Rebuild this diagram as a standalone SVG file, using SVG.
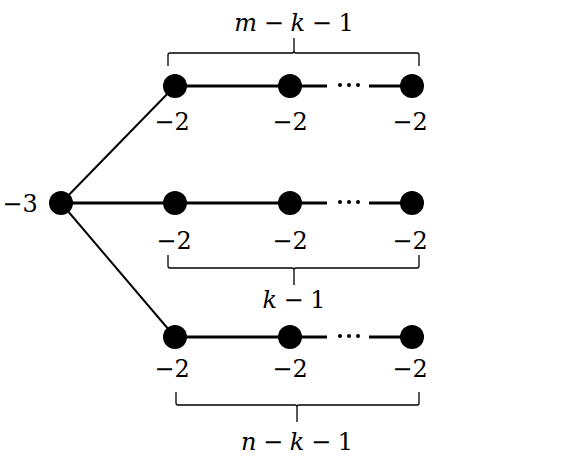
<svg xmlns="http://www.w3.org/2000/svg" width="563" height="462" viewBox="0 0 563 462">
<style>
.n{fill:#000}
.e{stroke:#000;stroke-width:3;fill:none}
.d{stroke:#000;stroke-width:2;fill:none}
.b{stroke:#000;stroke-width:1.3;fill:none}
.p{fill:#000}
text{font-family:"DejaVu Serif","Liberation Serif",serif;font-size:24px;fill:#000;text-anchor:middle}
.i{font-style:italic}
.w{word-spacing:-1px}
</style>
<defs>
<g id="dots"><circle class="p" cx="340" cy="0" r="2"/><circle class="p" cx="349" cy="0" r="2"/><circle class="p" cx="358" cy="0" r="2"/></g>
</defs>
<rect width="563" height="462" fill="#fff"/>
<g id="connectors">
<line class="d" x1="61" y1="203" x2="175" y2="86"/>
<line class="d" x1="61" y1="203" x2="175" y2="337"/>
<line class="e" x1="175" y1="86" x2="327" y2="86"/>
<line class="e" x1="369" y1="86" x2="412" y2="86"/>
<line class="e" x1="61" y1="203" x2="327" y2="203"/>
<line class="e" x1="369" y1="203" x2="412" y2="203"/>
<line class="e" x1="175" y1="337" x2="327" y2="337"/>
<line class="e" x1="369" y1="337" x2="412" y2="337"/>
<use href="#dots" y="85"/>
<use href="#dots" y="202"/>
<use href="#dots" y="336"/>
</g>
<g id="n0"><circle class="n" cx="61" cy="203" r="12"/><text x="20" y="212">−3</text></g>
<g id="t1"><circle class="n" cx="175" cy="86" r="12"/><text x="172" y="130">−2</text></g>
<g id="t2"><circle class="n" cx="290" cy="86" r="12"/><text x="290" y="130">−2</text></g>
<g id="t3"><circle class="n" cx="412" cy="86" r="12"/><text x="410" y="130">−2</text></g>
<g id="m1"><circle class="n" cx="175" cy="203" r="12"/><text x="174" y="249">−2</text></g>
<g id="m2"><circle class="n" cx="290" cy="203" r="12"/><text x="290" y="249">−2</text></g>
<g id="m3"><circle class="n" cx="412" cy="203" r="12"/><text x="410" y="249">−2</text></g>
<g id="b1"><circle class="n" cx="175" cy="337" r="12"/><text x="172" y="377">−2</text></g>
<g id="b2"><circle class="n" cx="290" cy="337" r="12"/><text x="290" y="377">−2</text></g>
<g id="b3"><circle class="n" cx="412" cy="337" r="12"/><text x="410" y="377">−2</text></g>
<g id="brace-top">
<path class="b" d="M168,66 V55 Q168,53 170,53 H292 Q294,53 294,51 V38 M294,51 Q294,53 296,53 H417 Q419,53 419,55 V66"/>
<text class="w" x="294" y="31"><tspan class="i">m</tspan> − <tspan class="i">k</tspan> − 1</text>
</g>
<g id="brace-mid">
<path class="b" d="M168,255 V266 Q168,268 170,268 H292 Q294,268 294,270 V285 M294,270 Q294,268 296,268 H417 Q419,268 419,266 V255"/>
<text class="w" x="294" y="308"><tspan class="i">k</tspan> − 1</text>
</g>
<g id="brace-bot">
<path class="b" d="M176,392 V403 Q176,405 178,405 H295 Q297,405 297,407 V422 M297,407 Q297,405 299,405 H417 Q419,405 419,403 V392"/>
<text class="w" x="297" y="450"><tspan class="i">n</tspan> − <tspan class="i">k</tspan> − 1</text>
</g>
</svg>
